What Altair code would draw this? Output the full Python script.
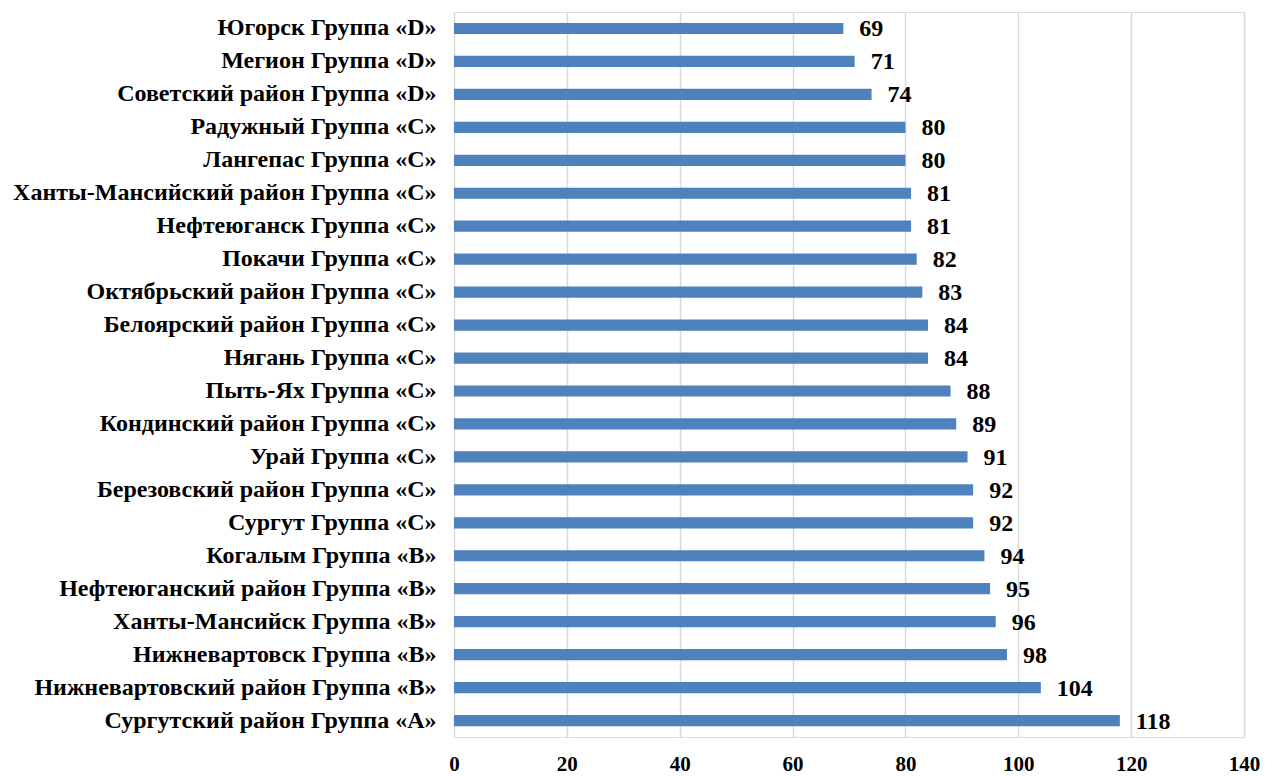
import altair as alt
import pandas as pd

categories = [
    "Югорск Группа «D»",
    "Мегион Группа «D»",
    "Советский район Группа «D»",
    "Радужный Группа «C»",
    "Лангепас Группа «C»",
    "Ханты-Мансийский район Группа «C»",
    "Нефтеюганск Группа «C»",
    "Покачи Группа «C»",
    "Октябрьский район Группа «C»",
    "Белоярский район Группа «C»",
    "Нягань Группа «C»",
    "Пыть-Ях Группа «C»",
    "Кондинский район Группа «C»",
    "Урай Группа «C»",
    "Березовский район Группа «C»",
    "Сургут Группа «C»",
    "Когалым Группа «B»",
    "Нефтеюганский район Группа «B»",
    "Ханты-Мансийск Группа «B»",
    "Нижневартовск Группа «B»",
    "Нижневартовский район Группа «B»",
    "Сургутский район Группа «A»",
]
values = [69, 71, 74, 80, 80, 81, 81, 82, 83, 84, 84, 88, 89, 91, 92, 92, 94, 95, 96, 98, 104, 118]
x_ticks = [0, 20, 40, 60, 80, 100, 120, 140]

df = pd.DataFrame({"cat": categories, "val": values})

FONT = "Liberation Serif"

y = alt.Y("cat:N", sort=categories, title=None,
          scale=alt.Scale(paddingInner=0.66, paddingOuter=0.33),
          axis=alt.Axis(ticks=False, domain=False, labelFont=FONT, labelFontSize=24,
                        labelFontWeight="bold", labelColor="black", labelPadding=18,
                        labelLimit=700, grid=False))
x = alt.X("val:Q", title=None,
          scale=alt.Scale(domain=[0, 140], nice=False),
          axis=alt.Axis(values=x_ticks, tickSize=0, domain=False, grid=True,
                        gridColor="#D9D9D9", gridWidth=1.5, labelFont=FONT,
                        labelFontSize=21, labelFontWeight="bold", labelColor="black",
                        labelPadding=16, labelFlush=False))

bars = alt.Chart(df).mark_bar(color="#4F81BD").encode(x=x, y=y)
text = alt.Chart(df).mark_text(align="left", baseline="middle", dx=16, dy=1,
                               font=FONT, fontSize=24, fontWeight="bold",
                               color="black").encode(x=x, y=y, text="val:Q")

chart = (bars + text).properties(
    width=790, height=725,
    autosize=alt.AutoSizeParams(type="none"),
    padding={"left": 446, "top": 4, "right": 17, "bottom": 40},
).configure_view(stroke=None).configure(background="white")

chart.save("out.html", embed_options={"renderer": "svg", "actions": False})
